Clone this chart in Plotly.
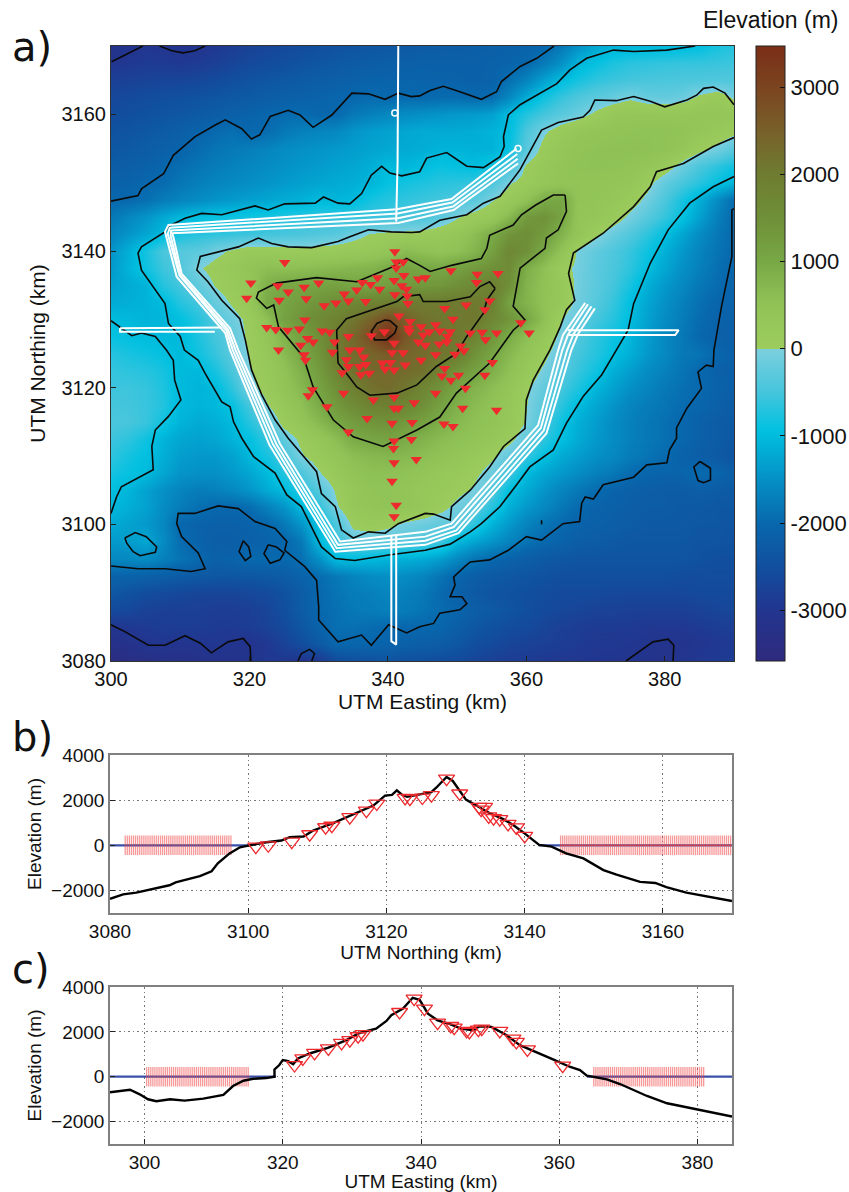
import plotly.graph_objects as go

easting = [300 + 2.5 * i for i in range(37)]
northing = [3170 - 2.5 * i for i in range(37)]
elevation_grid = [
[-3100,-3050,-2990,-3000,-3050,-3020,-2950,-2850,-2750,-2680,-2620,-2560,-2500,-2450,-2400,-2370,-2330,-2300,-2270,-2240,-2230,-2200,-2170,-2130,-2090,-2040,-1800,-1500,-1250,-1120,-1080,-1060,-1040,-1020,-950,-800,-700],
[-3000,-2950,-2880,-2900,-2920,-2880,-2800,-2700,-2620,-2560,-2500,-2430,-2370,-2310,-2260,-2230,-2200,-2170,-2150,-2150,-2150,-2150,-2120,-2080,-2010,-1760,-1500,-1100,-900,-760,-680,-640,-620,-600,-600,-580,-560],
[-2800,-2750,-2720,-2700,-2700,-2650,-2580,-2500,-2430,-2370,-2320,-2270,-2220,-2190,-2140,-2100,-2090,-2080,-2090,-2110,-2120,-2140,-2110,-1900,-1650,-1300,-1000,-800,-640,-560,-500,-470,-450,-430,-420,-400,-400],
[-2650,-2600,-2550,-2500,-2470,-2430,-2380,-2330,-2280,-2220,-2180,-2140,-2100,-2060,-2010,-1960,-2000,-1980,-2000,-1960,-1960,-2010,-1950,-1600,-1200,-850,-600,-420,-300,-200,-60,-200,-220,-170,60,200,-60],
[-2550,-2500,-2450,-2400,-2350,-2290,-2230,-2160,-2100,-2030,-1960,-1960,-2020,-1990,-1800,-1700,-1600,-1550,-1500,-1450,-1400,-1380,-1300,-1000,-720,-500,-320,-150,80,300,350,350,340,350,380,400,350],
[-2450,-2400,-2330,-2260,-2190,-2100,-1980,-1900,-2030,-1950,-1800,-1700,-1650,-1600,-1450,-1350,-1300,-1250,-1200,-1200,-1200,-1170,-1100,-1000,-450,-60,200,350,420,450,480,500,500,450,350,250,100],
[-2350,-2300,-2230,-2160,-2080,-1950,-1850,-1780,-1720,-1650,-1550,-1500,-1450,-1400,-1350,-1280,-1230,-1200,-1170,-1100,-1100,-1120,-1120,-900,-350,150,350,450,520,550,560,540,480,370,100,-100,-350],
[-2250,-2200,-2130,-2040,-1930,-1830,-1750,-1680,-1620,-1550,-1480,-1420,-1370,-1300,-1250,-1150,-1020,-1080,-980,-880,-930,-1000,-800,-500,50,300,420,500,530,500,430,380,200,-150,-450,-650,-850],
[-2150,-2100,-2020,-1950,-1820,-1720,-1640,-1580,-1520,-1450,-1380,-1320,-1250,-1200,-1150,-1080,-900,-820,-750,-680,-650,-600,-420,-30,150,350,420,430,420,400,340,120,-250,-480,-680,-930,-1100],
[-2000,-1990,-1900,-1750,-1650,-1550,-1450,-1380,-1320,-1250,-1180,-1120,-1020,-1080,-1020,-800,-700,-620,-560,-500,-430,-320,-20,200,500,950,1050,450,400,320,180,-100,-450,-800,-1150,-1550,-1950],
[-1800,-1620,-1450,-1220,-1050,-950,-880,-850,-800,-780,-720,-680,-650,-620,-600,-560,-520,-480,-460,-300,-30,150,300,700,1300,1450,1100,400,350,200,-80,-350,-620,-900,-1300,-1700,-2000],
[-1650,-1450,-1250,-1030,-800,-700,-650,-600,-560,-520,-480,-440,-380,-330,-150,20,80,100,150,250,350,600,950,1400,1550,1250,800,400,70,-180,-400,-650,-950,-1250,-1550,-1800,-2000],
[-1450,-1150,-800,-450,-350,-300,-100,50,220,200,150,120,150,200,250,300,400,650,550,450,550,750,1150,1700,1500,950,500,-60,-250,-420,-600,-850,-1150,-1400,-1650,-1850,-2020],
[-1400,-1100,-850,-550,-400,-40,120,250,450,600,550,600,650,700,750,800,950,1100,1050,1000,1150,1300,1500,1600,900,550,120,-80,-300,-450,-650,-950,-1250,-1500,-1700,-1900,-2050],
[-1300,-1200,-1100,-700,-500,-250,20,200,350,850,1050,1050,1100,1150,1050,1100,1200,1300,1300,1350,1500,1700,1950,1500,800,500,300,-100,-300,-500,-800,-1150,-1400,-1600,-1800,-1950,-2100],
[-1200,-1150,-1100,-1010,-700,-500,-200,50,300,980,1050,1250,1400,1550,1700,1800,1900,2000,2000,2000,2050,2050,1900,1100,800,500,250,-120,-350,-600,-950,-1250,-1500,-1700,-1900,-2050,-2100],
[-1000,-1050,-1100,-1080,-950,-700,-400,-150,100,550,1150,1400,1650,1850,2100,2450,2900,2500,2200,2100,2050,2100,1700,1400,1050,550,20,-250,-500,-700,-1000,-1300,-1550,-1750,-1950,-2100,-2150],
[-900,-950,-1000,-1040,-1030,-750,-500,-250,80,400,800,1150,1500,2000,2350,2900,3400,2700,2300,2150,2100,1800,1400,950,600,300,-100,-400,-650,-850,-1070,-1350,-1600,-1800,-2000,-2150,-2200],
[-700,-780,-850,-930,-1040,-850,-600,-300,30,300,650,1000,1400,1950,2300,2400,2600,2400,2300,2150,2000,1450,1050,700,400,100,-250,-500,-700,-950,-1150,-1400,-1600,-1800,-1850,-2020,-2150],
[-600,-650,-700,-800,-1020,-1050,-800,-450,-30,250,500,850,1250,1750,2200,2350,2350,2300,2200,1800,1400,1150,850,550,250,-80,-350,-600,-850,-1150,-1350,-1550,-1700,-1850,-2000,-2150,-2200],
[-550,-550,-600,-750,-1020,-1100,-1020,-650,-130,150,450,700,1100,1500,1900,2200,2300,2100,1750,1400,1050,800,600,400,60,-250,-500,-750,-1080,-1300,-1500,-1650,-1800,-1900,-1990,-2100,-2200],
[-500,-520,-580,-720,-1030,-1100,-1050,-900,-500,-20,300,550,950,1300,1600,1850,1900,1750,1500,1150,850,650,500,300,20,-350,-650,-1000,-1250,-1450,-1650,-1750,-1850,-1950,-2050,-2150,-2250],
[-450,-480,-580,-850,-1100,-1200,-1150,-1020,-700,-350,150,400,700,1020,1250,1400,1450,1300,1150,900,700,550,450,300,-20,-450,-850,-1150,-1350,-1550,-1700,-1800,-1900,-2020,-2150,-2250,-2300],
[-550,-650,-850,-1100,-1250,-1300,-1250,-1100,-950,-600,-250,100,350,600,950,1050,1100,950,800,650,550,450,350,120,-250,-650,-950,-1200,-1400,-1550,-1700,-1800,-1900,-2020,-2150,-2250,-2350],
[-650,-800,-950,-1150,-1350,-1400,-1400,-1300,-1050,-800,-500,-50,200,400,600,700,750,700,600,500,400,250,60,-250,-600,-950,-1200,-1350,-1500,-1600,-1750,-1850,-1970,-2120,-2200,-2300,-2400],
[-800,-900,-1020,-1250,-1450,-1500,-1500,-1400,-1250,-1020,-700,-450,-30,250,450,550,550,500,400,300,200,80,-150,-550,-1000,-1250,-1400,-1550,-1700,-1800,-1950,-2050,-2100,-2080,-1950,-2050,-2200],
[-950,-1080,-1300,-1500,-1650,-1750,-1700,-1600,-1450,-1200,-1000,-700,-350,50,350,450,450,400,300,200,100,-50,-400,-950,-1200,-1450,-1650,-1800,-1950,-2080,-2150,-2200,-2250,-2250,-2200,-2250,-2300],
[-1050,-1150,-1300,-1550,-1750,-1900,-2000,-2020,-1950,-1700,-1450,-1020,-650,-50,300,400,450,400,300,120,-100,-300,-700,-1150,-1400,-1600,-1800,-1980,-2100,-2150,-2200,-2250,-2250,-2300,-2300,-2350,-2350],
[-1200,-1300,-1400,-1600,-2020,-2100,-2150,-2150,-2100,-2020,-1800,-1450,-950,-450,100,200,100,-60,-150,-250,-300,-650,-1100,-1400,-1650,-1850,-1980,-2100,-2150,-2200,-2250,-2300,-2300,-2300,-2350,-2350,-2400],
[-1400,-1350,-1250,-1550,-1950,-2100,-2200,-2200,-2150,-2100,-2020,-1800,-1000,-600,-250,-250,-300,-350,-400,-500,-1020,-1250,-1450,-1650,-1850,-2000,-2100,-2200,-2250,-2300,-2350,-2350,-2350,-2350,-2400,-2400,-2450],
[-1600,-1600,-1550,-1700,-1850,-1980,-2150,-2100,-1980,-1980,-1990,-1900,-1500,-1000,-1000,-1020,-1100,-1150,-1200,-1350,-1600,-1850,-2000,-2120,-2200,-2300,-2350,-2400,-2400,-2400,-2400,-2400,-2400,-2400,-2450,-2500,-2500],
[-2100,-2100,-2150,-2200,-2250,-2300,-2350,-2350,-2350,-2300,-2250,-2100,-1950,-1800,-1650,-1550,-1500,-1550,-1650,-1850,-2050,-2200,-2300,-2350,-2400,-2450,-2500,-2500,-2500,-2500,-2500,-2500,-2500,-2550,-2550,-2550,-2550],
[-2350,-2450,-2550,-2600,-2650,-2700,-2700,-2700,-2650,-2600,-2450,-2250,-2000,-1850,-1750,-1700,-1650,-1700,-1800,-1980,-2150,-2300,-2400,-2450,-2500,-2550,-2600,-2600,-2600,-2650,-2650,-2650,-2650,-2650,-2600,-2600,-2600],
[-2600,-2650,-2750,-2800,-2800,-2800,-2850,-2850,-2800,-2700,-2500,-2250,-2000,-1900,-1800,-1750,-1700,-1750,-1850,-1950,-2050,-2200,-2300,-2400,-2500,-2600,-2650,-2700,-2750,-2750,-2800,-2800,-2800,-2800,-2750,-2700,-2650],
[-3000,-2950,-2900,-2850,-2850,-2850,-2900,-2900,-2850,-2750,-2600,-2350,-2100,-1900,-1900,-1950,-2000,-2020,-2000,-2050,-2200,-2350,-2450,-2550,-2600,-2700,-2800,-2850,-2900,-2900,-2900,-2950,-2950,-2950,-2900,-2850,-2800],
[-3250,-3150,-3020,-2990,-3050,-3010,-2950,-3020,-3060,-2950,-2750,-2550,-2300,-2020,-2050,-2050,-2100,-2150,-2200,-2250,-2350,-2500,-2600,-2700,-2750,-2800,-2850,-2900,-2950,-2950,-2980,-3020,-3080,-3050,-3000,-2950,-2900],
[-3400,-3350,-3300,-3250,-3250,-3200,-3150,-3100,-3030,-2950,-2950,-3020,-2950,-2600,-2500,-2450,-2400,-2500,-2500,-2550,-2600,-2700,-2800,-2850,-2900,-2950,-2950,-2980,-2990,-2990,-3020,-3100,-3150,-2990,-2950,-2900,-2850],
]

contour_lines = [
 [(300.09,3167.7),(302,3168.7),(304.4,3169.9),(304.6,3170)],
 [(307,3170),(308.8,3169.3),(310.4,3169),(312.1,3169.3),(313.6,3170)],
 [(300,3147.3),(302,3147.7),(303.9,3148.1),(304.4,3149.1),(305.9,3150.1),(307.6,3151.3),(309,3154),(312.1,3156.7),(315,3158.4),(316.5,3159.2),(318.9,3157.9),(320.3,3156.4),(321.5,3157),(323,3159.7),(325.6,3160.6),(327.3,3159.9),(329.2,3158.1),(331.9,3159.9),(334.8,3163.1),(337.2,3163),(339.6,3162.2),(341.5,3163.1),(343.4,3162.6),(344.6,3162.7),(346.1,3163.5),(348,3164.1),(350.4,3163.3),(353.5,3162.2),(355.7,3163.3),(356.4,3164.8),(359.1,3167),(361.5,3168.2),(364,3170)],
 [(384.4,3170),(380.3,3169.4),(375.5,3169.2),(372.6,3169.4),(368.7,3168.2),(366.3,3166.5),(364.4,3164.5),(359.1,3161.4),(357.4,3159.9),(356.7,3156.7),(356.8,3155.3),(356.2,3153.8),(353.8,3152.2),(351.4,3152.4),(348.5,3154.4),(345.6,3153.6),(344.6,3151.6),(342,3151),(340.3,3151.4),(339.1,3152.4),(337.6,3151.1),(336.2,3148.4),(334.5,3146.9),(332.8,3147),(330.7,3147.9),(329.5,3147),(325.1,3146.9),(322.7,3146),(320.8,3146.6),(319.4,3146.2),(316,3145.3),(313.1,3145.5),(310.7,3144.8),(308.3,3143.6),(307.8,3142.8),(304.4,3140.6),(303.9,3139.7),(304.4,3137.2),(307.8,3132.3),(308.3,3129.4),(310,3127.5),(310.6,3125.5),(312.6,3124),(313.6,3122.1),(316,3117.9),(317.2,3117.2),(317.7,3115),(318.9,3112.6),(320.6,3109.9),(323.7,3107.5),(325.4,3104.3),(327.5,3102.6),(330.4,3096.7),(332.4,3095),(335.2,3094.7),(340.1,3095.5),(345.4,3096.2),(349,3097.1),(351.9,3098.9),(353.5,3100.1),(356.2,3102.6),(358.6,3105.8),(360.5,3108.4),(363.9,3110.9),(365.8,3114.8),(368.2,3118.7),(370.9,3121.9),(373,3125.5),(374.7,3128.4),(375.5,3132.3),(377.9,3138.2),(380.5,3143.1),(383.6,3147),(387,3149.4),(390,3150.9)],
 [(300,3129.8),(301.3,3128.9),(303,3127.6),(304.4,3128),(306.4,3127.5),(308,3125.5),(309,3124),(309.2,3121.1),(310.1,3118.2),(308.3,3115.8),(306.4,3113.8),(305.9,3111.4),(306.1,3108),(301.5,3105.5),(300.8,3104),(300,3101.6)],
 [(390,3161.4),(388.7,3163.1),(387,3164),(385.6,3163.8),(384.6,3162.8),(383.2,3162.1),(380,3161.1),(377.9,3161.9),(375.5,3162.6),(373,3162),(369.9,3162.1),(369.2,3160.6),(368.2,3159.6),(364.6,3158.8),(362.2,3157.7),(360.5,3154.5),(359.1,3151.9),(356.2,3148),(353.8,3147),(351.4,3145.3),(347.5,3144.5),(344.6,3142.8),(343.4,3142.7),(340.5,3142.8),(337.2,3143.1),(334.5,3142.1),(332.8,3141.4),(329,3140.5),(325.6,3140.6),(323.2,3141.1),(321.3,3141.9),(318.4,3140.6),(315.5,3139.9),(312.9,3139.2),(312.4,3137.2),(314,3135.5),(316,3132.8),(318.6,3130.1),(319.4,3127),(319.7,3125.5),(320.3,3122.6),(321.8,3118.9),(323.7,3115.3),(325.6,3112.6),(327.5,3110.4),(329.7,3107.7),(330.4,3104.5),(332.4,3102.6),(333.3,3099.2),(335,3098),(337.2,3098.9),(339.6,3098.7),(341.5,3100.1),(345.4,3101.6),(346.6,3101.5),(349,3100.6),(349.2,3102.6),(351.9,3105),(354.7,3108.4),(356.7,3111.4),(359.8,3114),(360,3118.2),(361,3121.1),(363.4,3125.5),(364.9,3128.9),(365.8,3131.4),(367,3132.8),(366.1,3136.7),(366.8,3139.7),(371.1,3142.6),(375.5,3146.5),(377.9,3149.4),(378.8,3151.6),(382.7,3152.8),(387,3155.3),(390,3156.6)],
 [(365.6,3148.2),(363.9,3148.2),(361.3,3146.7),(359.3,3145.3),(358.1,3143.8),(354.7,3142.3),(354.3,3140.4),(353.5,3138.9),(349.2,3137.9),(346.1,3137),(344.6,3137.9),(342.7,3138.9),(340.3,3137.5),(335.5,3135.5),(329.7,3136.1),(323.9,3135.3),(321.3,3134),(321,3133.1),(322.5,3131.6),(323.5,3132.1),(324.2,3128.9),(327.8,3124.5),(329.2,3120.1),(332.1,3115.3),(335,3112.8),(339.3,3111.4),(344.2,3113.8),(347.5,3115.7),(349.9,3119.2),(354.7,3123.6),(358.1,3128.4),(359.8,3129.9),(358.1,3131.9),(359.1,3137.5),(362.7,3140.4),(362.9,3141.9),(364.6,3143.1),(365.8,3145.8),(365.6,3148.2)],
 [(355.5,3134.5),(354.7,3135.5),(353.3,3134.8),(351.9,3133.3),(348.5,3132.6),(345.1,3132.6),(344.6,3133.6),(342.2,3133.3),(341.3,3132.6),(337.9,3131.4),(334,3130.1),(332.6,3128.4),(332.8,3123.6),(334,3122.1),(335.5,3120.1),(337.4,3118.9),(341.3,3119.2),(344.2,3120.4),(347,3123.1),(349.9,3125),(351.4,3127.5),(353.8,3130.9),(354.3,3132.8),(355.5,3134.5)],
 [(339.6,3129.9),(338.4,3129.4),(337.6,3128.2),(338.1,3127),(339.8,3127),(341,3128),(341.3,3128.9),(340.3,3129.8),(339.6,3129.9)],
 [(300,3093.9),(303.9,3093.5),(307.8,3093.5),(311.6,3093.1),(313.6,3093.5),(312.6,3095.8),(310.2,3098.2),(309.5,3100.1),(309.7,3101.6),(312.1,3101.6),(315.5,3102.7),(318.4,3102.3),(320.8,3100.4),(323.7,3099.4),(325.4,3097.5),(325.1,3096.2),(328,3093.8),(329.7,3091.8),(330,3087.9),(330,3086),(332.8,3082.8),(336.2,3083.8),(337.6,3082.3),(340.1,3085.3),(342.7,3084.1),(344.6,3085),(346.6,3085.5),(347.5,3087),(350.4,3087.5),(351.4,3088.4),(350.7,3089.4),(349,3089.4),(349.7,3091.1),(349.5,3092.3),(351.1,3093.8),(351.9,3094.5),(354.7,3094.8),(357.4,3096.2),(360,3098.2),(362.2,3097.7),(365.3,3100.1),(367.7,3100.4),(368,3103.1),(368.5,3104),(369.7,3103.7),(371.1,3105.8),(375.5,3106.9),(377.4,3108.7),(380.3,3109),(380.7,3110.9),(381.7,3112.6),(381.7,3114.1),(383.2,3117),(385.3,3119.9),(384.8,3122.3),(386,3123.3),(387,3123.1),(387.1,3125.5),(388.2,3131.9),(389.7,3139.2),(389.7,3146),(390,3146.2)],
 [(302,3098),(303.5,3098.8),(305.1,3098.2),(306.6,3096.7),(306.4,3095.9),(304.2,3095.4),(303.2,3096),(302.3,3097.2),(302,3098)],
 [(319.1,3097.6),(318.5,3096),(319.4,3094.7),(320.2,3095.3),(319.9,3096.7),(319.1,3097.6)],
 [(322.7,3097),(322.1,3095.7),(323,3094.3),(324.4,3094.8),(325,3095.8),(323.9,3096.7),(322.7,3097)],
 [(385.1,3109.2),(384.2,3108.4),(384.8,3106.4),(385.6,3106.1),(386.6,3106.5),(386.6,3108.2),(385.1,3109.2)],
 [(362.2,3100.6),(362.2,3100)],
 [(300,3085.3),(302,3084.3),(305.4,3082.3),(307.8,3082.3),(310.7,3083.7),(312.9,3082.6),(314.5,3081.2),(316.9,3082.8),(319.1,3083.3),(320.1,3082.1),(320.2,3080)],
 [(327,3080),(327.5,3081.1),(328.7,3081.7),(329.4,3081.1),(329,3080)],
 [(374.4,3080),(376.4,3081.4),(378.3,3082.8),(380.5,3083.2),(381.3,3082.3),(381.2,3080)],
]

track_lines = [
 [(358.6,3155),(349.2,3147.6),(341.3,3146.1),(308.3,3143.8),(307.8,3142.8),(309.5,3136.2),(316.5,3128),(317.2,3125.5),(322.9,3111.6),(332.4,3096),(345.4,3097),(350.2,3098.7),(362.9,3113.3),(366.5,3125.5),(367.5,3127.9),(369.9,3131.6)],
 [(358.7,3154.2),(349.3,3147.1),(341.4,3145.5),(308.5,3143.4),(308.2,3142.5),(309.9,3136.4),(316.7,3128.3),(317.6,3125.5),(323.4,3111.7),(332.6,3096.5),(345.4,3097.6),(349.9,3099.1),(362.5,3113.7),(365.9,3125.5),(366.8,3127.8),(369.4,3131.9)],
 [(358.75,3153.5),(349.4,3146.5),(341.45,3144.8),(308.7,3143),(308.6,3142.3),(310,3136.5),(316.9,3128.5),(318,3125.5),(323.9,3111.7),(332.8,3097),(345.4,3098.2),(349.5,3099.6),(362.1,3114.1),(365.2,3125.5),(366,3127.7),(368.9,3132.2)],
 [(358.8,3152.8),(349.5,3146),(341.5,3144.1),(308.8,3142.6),(309,3142.1),(310.2,3136.7),(317.2,3128.7),(318.4,3125.5),(324.4,3111.8),(333.1,3097.5),(345.4,3098.9),(349.2,3100.1),(361.7,3114.5),(364.6,3125.5),(365.3,3127.7),(368.5,3132.4)],
 [(301.3,3128.7),(316,3128.8)],
 [(301.3,3128.7),(301.3,3128.2),(315,3128.2)],
 [(366,3128.4),(382,3128.4),(381.5,3127.7),(366,3127.7)],
 [(341.5,3170),(341.4,3153),(341.2,3144.3)],
 [(340.5,3098.3),(340.5,3082.9),(341.2,3082.4),(341.2,3098.3)],
]
track_ends_x = [341, 358.8]
track_ends_y = [3160.2, 3155]

station_e = [341.0,325.1,341.2,342.2,341.2,349.1,352.9,355.9,320.2,324.1,327.9,330.0,336.3,338.5,340.9,342.3,344.4,345.4,352.8,325.6,335.5,337.5,338.8,342.0,342.7,319.6,324.3,328.2,333.7,334.3,341.0,342.8,330.8,332.5,336.8,342.9,348.2,351.3,354.7,354.0,328.0,341.6,343.2,349.4,359.2,322.5,323.8,325.5,327.2,330.5,331.6,334.3,337.6,339.5,343.0,343.1,344.8,346.9,346.0,345.1,347.5,349.0,348.6,351.9,353.6,355.7,360.4,328.4,329.2,327.4,332.3,344.4,345.4,347.4,348.5,354.1,340.9,334.5,324.2,335.9,350.5,351.0,332.0,340.6,342.2,336.5,346.9,349.7,344.8,327.9,328.1,334.0,355.1,334.3,335.9,336.8,339.2,340.4,342.5,339.6,340.9,348.2,333.4,336.1,337.3,347.8,350.2,354.0,349.1,351.2,329.1,328.5,333.6,346.9,340.9,337.9,343.8,331.2,340.9,341.5,350.8,355.7,337.0,340.6,343.5,348.1,349.4,334.3,340.9,343.4,340.8,340.9,344.1,340.6,341.2,340.9]
station_n = [3139.9,3138.3,3138.4,3138.4,3137.5,3137.1,3136.6,3136.7,3135.3,3134.9,3134.7,3135.3,3135.4,3136.1,3135.7,3136.4,3135.9,3136.1,3135.4,3134.0,3134.3,3135.1,3134.4,3134.9,3134.4,3133.1,3132.8,3133.0,3133.7,3132.7,3133.6,3133.4,3132.0,3132.4,3132.6,3132.3,3131.6,3132.1,3132.7,3131.4,3129.9,3130.5,3129.7,3130.0,3129.5,3128.8,3128.5,3128.4,3128.6,3128.3,3128.1,3127.5,3127.6,3128.2,3128.7,3128.2,3128.9,3129.2,3128.2,3127.7,3128.3,3128.2,3127.5,3128.0,3128.1,3128.0,3128.0,3127.2,3126.7,3126.2,3126.7,3126.7,3126.2,3126.4,3126.7,3127.0,3126.5,3125.5,3125.5,3125.5,3126.1,3125.4,3125.2,3125.1,3125.1,3124.5,3124.8,3124.9,3124.0,3124.8,3124.0,3124.1,3123.7,3123.1,3123.1,3123.4,3123.6,3123.7,3123.3,3122.7,3122.6,3122.8,3122.2,3121.9,3122.1,3121.7,3121.8,3121.8,3121.1,3119.9,3119.7,3118.8,3119.2,3119.2,3118.6,3118.2,3117.8,3117.2,3117.0,3117.0,3117.0,3116.7,3115.5,3114.8,3114.9,3114.7,3114.3,3113.5,3112.2,3112.4,3111.1,3109.0,3109.5,3106.3,3102.8,3101.1]

b_topo_x = [3080,3081.9,3083.8,3085.7,3088.6,3089.5,3093,3094.7,3095.6,3097.3,3098.8,3100,3101.2,3102.6,3104.8,3106,3108,3109.4,3112.3,3114.2,3116.2,3118.1,3119.8,3120.8,3121.5,3122.2,3123,3124.8,3126.5,3127.2,3128.7,3129.6,3130.6,3131.5,3133,3134.9,3136.9,3138.3,3139.8,3141.2,3142.1,3143.9,3146,3148.5,3151.4,3153.3,3156.7,3158.9,3160.5,3163.4,3166.3,3170]
b_topo_z = [-2370,-2175,-2100,-1970,-1770,-1640,-1370,-1150,-800,-360,-90,-15,45,135,210,360,390,655,985,1250,1500,1760,2200,2235,2430,2250,2145,2250,2350,2550,3025,2850,2400,2025,1760,1430,1160,910,570,240,15,-60,-360,-580,-1100,-1300,-1620,-1670,-1850,-2100,-2260,-2470]
b_station_x = [3101.1,3102.9,3106.3,3108.9,3111.2,3112.1,3114.7,3117.1,3118.6,3122.7,3123.4,3125.2,3126.5,3128.7,3130.6,3133.4,3133.7,3134.2,3134.8,3135.5,3136.4,3137.6,3138.8,3140]
b_station_z = [-60,0,165,490,800,865,1250,1535,1850,2100,2070,2115,2220,2950,2295,1700,1580,1700,1280,1200,1160,950,790,415]
b_shot_x = [3082.2,3082.5,3082.8,3083.1,3083.4,3083.7,3084,3084.3,3084.6,3084.9,3085.2,3085.5,3085.8,3086.1,3086.4,3086.7,3087,3087.3,3087.6,3087.9,3088.2,3088.5,3088.8,3089.1,3089.4,3089.7,3090,3090.3,3090.6,3090.9,3091.2,3091.5,3091.8,3092.1,3092.4,3092.7,3093,3093.3,3093.6,3093.9,3094.2,3094.5,3094.8,3095.1,3095.4,3095.7,3096,3096.3,3096.6,3096.9,3097.2,3097.5,
3145.2,3145.5,3145.8,3146.1,3146.4,3146.7,3147,3147.3,3147.6,3147.9,3148.2,3148.5,3148.8,3149.1,3149.4,3149.7,3150,3150.3,3150.6,3150.9,3151.2,3151.5,3151.8,3152.1,3152.4,3152.7,3153,3153.3,3153.6,3153.9,3154.2,3154.5,3154.8,3155.1,3155.4,3155.7,3156,3156.3,3156.6,3156.9,3157.2,3157.5,3157.8,3158.1,3158.4,3158.7,3159,3159.3,3159.6,3159.9,3160.2,3160.5,3160.8,3161.1,3161.4,3161.7,3162,3162.3,3162.6,3162.9,3163.2,3163.5,3163.8,3164.1,3164.4,3164.7,3165,3165.3,3165.6,3165.9,3166.2,3166.5,3166.8,3167.1,3167.4,3167.7,3168,3168.3,3168.6,3168.9,3169.2,3169.5,3169.8]
b_sea_west = [3080,3100]
b_sea_east = [3142,3170]
b_shot_line = [3145.2,3171]

c_topo_x = [295,296.4,297.9,299.3,300.5,301.7,303.7,305.8,308.5,311.4,312.8,314.3,315.7,317.6,318.8,318.8,319.5,320,320.8,321.5,322.2,323.9,326.6,329.2,331.1,333.5,335,335.7,337.4,338.8,339.8,341,342.4,344.2,345.8,347.5,348.5,350.2,352.4,354.3,356.2,359.1,361.5,363,364,366.9,368.8,372.7,375.6,378.5,381.8,385]
c_topo_z = [-695,-650,-580,-785,-1005,-1095,-1005,-1065,-975,-815,-415,-180,-90,-60,0,325,520,740,695,560,815,1035,1300,1630,1950,2145,2485,2740,3035,3520,3430,2810,2515,2340,2145,2070,2250,2220,1850,1405,1140,770,445,295,45,-120,-325,-860,-1185,-1360,-1555,-1775]
c_station_x = [321.7,322.9,324.6,326.6,328.5,329.7,330.9,331.6,336.9,339,340.5,342.4,344.3,344.8,346.6,347,348.3,348.8,351.4,353.3,353.8,355.4,360.5]
c_station_z = [520,815,1065,1260,1510,1630,1805,1895,2885,3480,3035,2410,2265,2190,2040,2000,2100,2145,2040,1700,1555,1215,490]
c_shot_x = [300.3,300.6,300.9,301.2,301.5,301.8,302.1,302.4,302.7,303,303.3,303.6,303.9,304.2,304.5,304.8,305.1,305.4,305.7,306,306.3,306.6,306.9,307.2,307.5,307.8,308.1,308.4,308.7,309,309.3,309.6,309.9,310.2,310.5,310.8,311.1,311.4,311.7,312,312.3,312.6,312.9,313.2,313.5,313.8,314.1,314.4,314.7,315,
365,365.3,365.6,365.9,366.2,366.5,366.8,367.1,367.4,367.7,368,368.3,368.6,368.9,369.2,369.5,369.8,370.1,370.4,370.7,371,371.3,371.6,371.9,372.2,372.5,372.8,373.1,373.4,373.7,374,374.3,374.6,374.9,375.2,375.5,375.8,376.1,376.4,376.7,377,377.3,377.6,377.9,378.2,378.5,378.8,379.1,379.4,379.7,380,380.3,380.6,380.9]
c_sea_west = [295,319]
c_sea_east = [364,385]

map_ticks_x = [300,320,340,360,380]
map_ticks_y = [3080,3100,3120,3140,3160]
profile_ticks_n = [3080,3100,3120,3140,3160]
profile_ticks_e = [300,320,340,360,380]
profile_ticks_z = [-2000,0,2000,4000]
cbar_ticks = [-3000,-2000,-1000,0,1000,2000,3000]
cbar_labels = ["-3000","-2000","-1000","0","1000","2000","3000"]

ZMIN, ZMAX = -3580, 3470
stops = [(-3580,"#2E2A7D"),(-3000,"#22358F"),(-2500,"#114F9E"),(-2000,"#0868AD"),(-1500,"#0590C5"),
         (-1000,"#00BCDD"),(-900,"#06C1E0"),(-500,"#45C5DC"),(0,"#7CCFDE"),(0,"#9CCC5C"),(500,"#90C357"),
         (1000,"#78A845"),(1500,"#6F8F38"),(2000,"#6E7C30"),(2500,"#78602A"),(3000,"#7B4420"),(3470,"#7A2E16")]
colorscale = [[(v - ZMIN) / (ZMAX - ZMIN), c] for v, c in stops]

W, H = 849, 1192
fig = go.Figure()
FONT = "Liberation Sans"
RED = "#EE2A2E"

fig.add_trace(go.Heatmap(
    x=easting, y=northing, z=elevation_grid, zsmooth="best", zmin=ZMIN, zmax=ZMAX,
    colorscale=colorscale, xaxis="x", yaxis="y", hoverinfo="skip",
    colorbar=dict(x=756/W, xanchor="left", thickness=29, thicknessmode="pixels",
                  y=(H-661)/H, yanchor="bottom", len=615/H, lenmode="fraction", ypad=0, xpad=0,
                  outlinecolor="#222", outlinewidth=1, ticks="inside", ticklen=5, tickcolor="#111",
                  tickvals=cbar_ticks, ticktext=cbar_labels,
                  tickfont=dict(family=FONT, size=22, color="#111"))))

for line in contour_lines:
    fig.add_trace(go.Scatter(x=[p[0] for p in line], y=[p[1] for p in line], mode="lines",
                             line=dict(color="#0a0a0a", width=1.6), xaxis="x", yaxis="y", showlegend=False))
for line in track_lines:
    fig.add_trace(go.Scatter(x=[p[0] for p in line], y=[p[1] for p in line], mode="lines",
                             line=dict(color="white", width=2), xaxis="x", yaxis="y", showlegend=False))
fig.add_trace(go.Scatter(x=track_ends_x, y=track_ends_y, mode="markers",
                         marker=dict(symbol="circle-open", size=6, color="white", line=dict(width=1.5, color="white")),
                         xaxis="x", yaxis="y", showlegend=False))
fig.add_trace(go.Scatter(x=station_e, y=station_n, mode="markers",
                         marker=dict(symbol="triangle-down", size=10, color=RED, line=dict(width=0)),
                         xaxis="x", yaxis="y", showlegend=False))

def profile(topo_x, topo_z, st_x, st_z, shots, seas, ax, ay, extra=None):
    for sea in seas:
        fig.add_trace(go.Scatter(x=sea, y=[0]*len(sea), mode="lines", line=dict(color="#3A50A8", width=2.2),
                                 xaxis=ax, yaxis=ay, showlegend=False))
    fig.add_trace(go.Scatter(x=shots, y=[0]*len(shots), mode="markers",
                             marker=dict(symbol="line-ns", size=14, line=dict(width=1.3, color="rgba(240,70,70,0.55)")),
                             xaxis=ax, yaxis=ay, showlegend=False))
    if extra:
        fig.add_trace(go.Scatter(x=extra, y=[0]*len(extra), mode="lines", cliponaxis=False,
                                 line=dict(color="rgba(238,60,60,0.8)", width=1), xaxis=ax, yaxis=ay, showlegend=False))
    fig.add_trace(go.Scatter(x=topo_x, y=topo_z, mode="lines", line=dict(color="black", width=2.4),
                             xaxis=ax, yaxis=ay, showlegend=False))
    fig.add_trace(go.Scatter(x=st_x, y=st_z, mode="markers",
                             marker=dict(symbol="triangle-down-open", size=14, color=RED, line=dict(width=1.3, color=RED)),
                             xaxis=ax, yaxis=ay, showlegend=False))

profile(b_topo_x, b_topo_z, b_station_x, b_station_z, b_shot_x, [b_sea_west, b_sea_east], "x2", "y2", b_shot_line)
profile(c_topo_x, c_topo_z, c_station_x, c_station_z, c_shot_x, [c_sea_west, c_sea_east], "x3", "y3")

tf = dict(family=FONT, size=20, color="#111")
tfp = dict(family=FONT, size=19, color="#111")
titlef = dict(family=FONT, size=21, color="#111")
titlep = dict(family=FONT, size=19, color="#111")
base = dict(showline=True, mirror=True, ticks="inside", ticklen=5, tickcolor="#222", tickfont=tf, zeroline=False, automargin=False)
prof = dict(base, tickfont=tfp, linecolor="#808080", linewidth=1.5, showgrid=True, gridcolor="#777", griddash="1.5px,3px", gridwidth=1)
mapax = dict(base, linecolor="#333", linewidth=1, showgrid=False)

fig.update_layout(
    width=W, height=H, margin=dict(l=0, r=0, t=0, b=0, autoexpand=False), paper_bgcolor="white", plot_bgcolor="white",
    showlegend=False,
    xaxis=dict(mapax, domain=[111/W, 734/W], range=[300, 390], tickvals=map_ticks_x, anchor="y",
               title=dict(text="UTM Easting (km)", font=titlef, standoff=4)),
    yaxis=dict(mapax, domain=[(H-661)/H, (H-46)/H], range=[3080, 3170], tickvals=map_ticks_y, anchor="x",
               title=dict(text="UTM Northing (km)", font=titlef, standoff=10)),
    xaxis2=dict(prof, domain=[110/W, 732/W], range=[3080, 3170], tickvals=profile_ticks_n, anchor="y2",
                title=dict(text="UTM Northing (km)", font=titlep, standoff=2)),
    yaxis2=dict(prof, domain=[(H-913)/H, (H-755)/H], range=[-3000, 4000], tickvals=profile_ticks_z, anchor="x2",
                title=dict(text="Elevation (m)", font=titlep, standoff=4)),
    xaxis3=dict(prof, domain=[110/W, 732/W], range=[295, 385], tickvals=profile_ticks_e, anchor="y3",
                title=dict(text="UTM Easting (km)", font=titlep, standoff=2)),
    yaxis3=dict(prof, domain=[(H-1144)/H, (H-987)/H], range=[-3000, 4000], tickvals=profile_ticks_z, anchor="x3",
                title=dict(text="Elevation (m)", font=titlep, standoff=4)),
    annotations=[
        dict(text="a)", x=10/W, y=1-47/H, xref="paper", yref="paper", xanchor="left", yanchor="middle", showarrow=False,
             font=dict(family="DejaVu Sans", size=40, color="#111")),
        dict(text="b)", x=10/W, y=1-737/H, xref="paper", yref="paper", xanchor="left", yanchor="middle", showarrow=False,
             font=dict(family="DejaVu Sans", size=40, color="#111")),
        dict(text="c)", x=10/W, y=1-969/H, xref="paper", yref="paper", xanchor="left", yanchor="middle", showarrow=False,
             font=dict(family="DejaVu Sans", size=40, color="#111")),
        dict(text="Elevation (m)", x=770/W, y=1-20/H, xref="paper", yref="paper", xanchor="center", yanchor="middle", showarrow=False,
             font=dict(family=FONT, size=23, color="#111")),
    ],
)
fig.write_html("out.html", config=dict(displayModeBar=False), post_script="document.body.style.margin='0';")
